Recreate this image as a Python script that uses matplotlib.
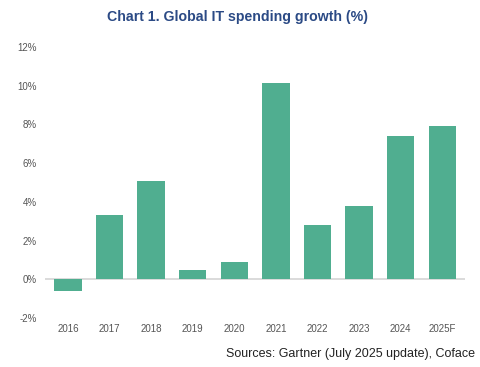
import matplotlib.pyplot as plt

years = ['2016', '2017', '2018', '2019', '2020', '2021', '2022', '2023', '2024', '2025F']
growth = [-0.6, 3.3, 5.1, 0.5, 0.9, 10.15, 2.8, 3.8, 7.4, 7.9]
y_ticks = [-2, 0, 2, 4, 6, 8, 10, 12]

plt.rcParams['font.family'] = ['Liberation Sans', 'DejaVu Sans']

fig = plt.figure(figsize=(4.8, 3.67), dpi=100)
ax = fig.add_axes([0.094, 0.1335, 0.875, 0.7385])

x = range(len(years))
ax.bar(x, growth, width=0.66, color='#50ae90')
ax.axhline(0, color='#d4d4d4', lw=1.2, zorder=0)

ax.set_ylim(-2, 12)
ax.set_xlim(-0.55, len(years) - 0.45)
ax.set_yticks(y_ticks)
ax.set_yticklabels([f'{v}%' for v in y_ticks])
ax.set_xticks(list(x))
ax.set_xticklabels(years)
ax.tick_params(axis='both', length=0, labelsize=7, colors='#555555')
ax.tick_params(axis='x', pad=4)
ax.tick_params(axis='y', pad=6)
for s in ax.spines.values():
    s.set_visible(False)

fig.text(0.494, 0.953, 'Chart 1. Global IT spending growth (%)', ha='center', va='center',
         fontsize=10.2, fontweight='bold', color='#2b4a85')
fig.text(0.99, 0.035, 'Sources: Gartner (July 2025 update), Coface', ha='right', va='center',
         fontsize=9, color='#222222')

fig.savefig('out.png', dpi=100)
